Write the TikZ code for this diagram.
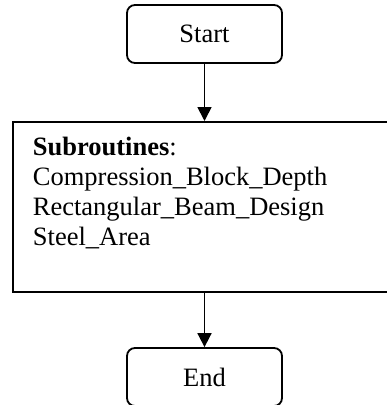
\documentclass[tikz,border=0pt]{standalone}
\usepackage{fontspec}
\setmainfont{Liberation Serif}
\usetikzlibrary{arrows.meta, positioning}

\begin{document}
\begin{tikzpicture}[x=1pt, y=-1pt,
        every node/.style={font=\fontsize{26.5}{30}\selectfont},
        terminal/.style={draw, line width=1.8pt, rounded corners=8pt, minimum width=155pt, minimum height=58pt, inner sep=0pt},
        subbox/.style={draw, line width=1.8pt, anchor=north west, align=left, text width=350pt, inner xsep=20pt, inner ysep=0pt},
        flow/.style={line width=1.8pt, -{Triangle[length=14pt, width=14pt]}}]
        \clip (0,0) rectangle (387,405);
        \node[terminal] (start) at (204.5, 34) {Start};
        \node[subbox] (sub) at (12, 121) {\rule{0pt}{34pt}\textbf{Subroutines}:\\
            Compression\_Block\_Depth\\
            Rectangular\_Beam\_Design\\
            Steel\_Area\rule[-46pt]{0pt}{0pt}};
        \node[terminal] (stop) at (204.5, 377) {End};
        \draw[flow] (start.south) -- (start.south |- sub.north);
        \draw[flow] (stop.north |- sub.south) -- (stop.north);
    \end{tikzpicture}
\end{document}
